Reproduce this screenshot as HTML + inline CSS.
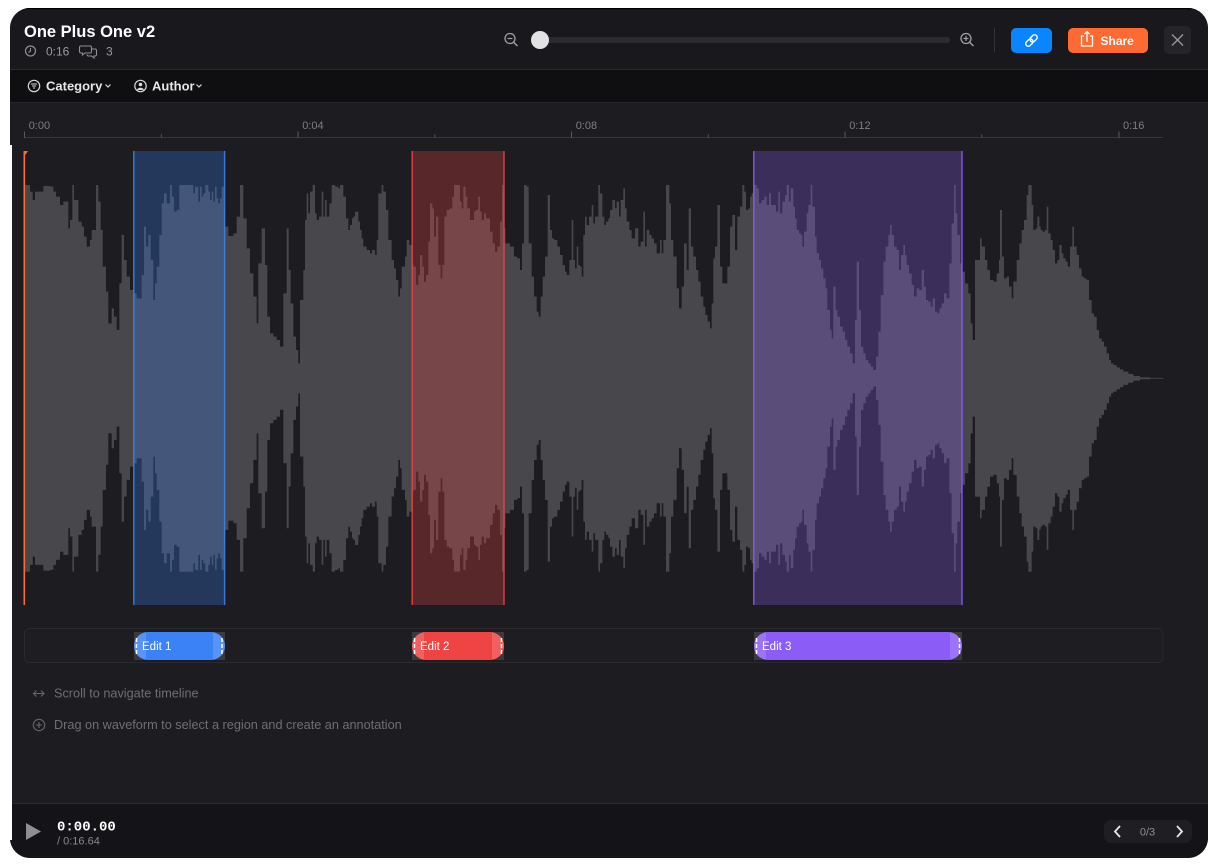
<!DOCTYPE html>
<html><head><meta charset="utf-8"><style>
html,body{margin:0;padding:0;background:#fff;width:1218px;height:867px;overflow:hidden}
svg{display:block}
text{font-family:"Liberation Sans",Arial,sans-serif}
.mono{font-family:"Liberation Mono","DejaVu Sans Mono",monospace}
</style></head><body>
<svg width="1218" height="867" viewBox="0 0 1218 867" xmlns="http://www.w3.org/2000/svg" xmlns:xlink="http://www.w3.org/1999/xlink">
<defs>
<clipPath id="win"><rect x="10" y="8" width="1198" height="850" rx="20"/></clipPath>
<clipPath id="p1"><rect x="134" y="632" width="91" height="28" rx="14"/></clipPath>
<clipPath id="p2"><rect x="412" y="632" width="92" height="28" rx="14"/></clipPath>
<clipPath id="p3"><rect x="754" y="632" width="208" height="28" rx="14"/></clipPath>
</defs>
<g clip-path="url(#win)">
 <rect x="10" y="8" width="1198" height="850" fill="#1d1c21"/>
 <rect x="10" y="8" width="1198" height="61" fill="#19181d"/>
 <rect x="10" y="8" width="1198" height="1.2" fill="#000"/>
 <rect x="10" y="69" width="1198" height="1" fill="#2c2b30"/>
 <rect x="10" y="70" width="1198" height="32" fill="#0f0f11"/>
 <rect x="10" y="102" width="1198" height="1" fill="#26252a"/>
 <rect x="10" y="803" width="1198" height="1" fill="#2a292e"/>
 <rect x="10" y="804" width="1198" height="54" fill="#141317"/>
</g>
<rect x="10" y="145" width="2" height="695" fill="#fff"/>

<!-- header -->
<text x="24" y="37" font-size="16.5" font-weight="700" fill="#ffffff">One Plus One v2</text>
<circle cx="30.5" cy="51" r="5" fill="none" stroke="#8e8e93" stroke-width="1.2"/>
<path d="M30.5,48 V51 L28.5,52.5" fill="none" stroke="#8e8e93" stroke-width="1.1"/>
<text x="46" y="55.5" font-size="12" fill="#9a9a9f">0:16</text>
<path d="M81,46 h9 a1.5,1.5 0 0 1 1.5,1.5 v4 a1.5,1.5 0 0 1 -1.5,1.5 h-5 l-2.5,2 v-2 h-1.5 a1.5,1.5 0 0 1 -1.5,-1.5 v-4 a1.5,1.5 0 0 1 1.5,-1.5z" fill="none" stroke="#8e8e93" stroke-width="1.1"/>
<path d="M91.5,49 h3.5 a1.5,1.5 0 0 1 1.5,1.5 v4 a1.5,1.5 0 0 1 -1.5,1.5 h-1 v2 l-2.5,-2 h-3 a1.5,1.5 0 0 1 -1.5,-1.5" fill="none" stroke="#8e8e93" stroke-width="1.1"/>
<text x="106" y="55.5" font-size="12" fill="#9a9a9f">3</text>

<!-- zoom slider -->
<circle cx="510" cy="38.5" r="5" fill="none" stroke="#a0a0a5" stroke-width="1.3"/>
<line x1="513.6" y1="42.2" x2="517.5" y2="46" stroke="#a0a0a5" stroke-width="1.4"/>
<line x1="507.5" y1="38.5" x2="512.5" y2="38.5" stroke="#a0a0a5" stroke-width="1.2"/>
<rect x="537" y="37" width="413" height="6" rx="3" fill="#2c2b30"/>
<circle cx="540" cy="40" r="9" fill="#e2e2e4"/>
<circle cx="966" cy="38.5" r="5" fill="none" stroke="#a0a0a5" stroke-width="1.3"/>
<line x1="969.6" y1="42.2" x2="973.5" y2="46" stroke="#a0a0a5" stroke-width="1.4"/>
<line x1="963.5" y1="38.5" x2="968.5" y2="38.5" stroke="#a0a0a5" stroke-width="1.2"/>
<line x1="966" y1="36" x2="966" y2="41" stroke="#a0a0a5" stroke-width="1.2"/>
<line x1="994.5" y1="28" x2="994.5" y2="52" stroke="#333237" stroke-width="1"/>

<!-- buttons -->
<rect x="1011" y="28" width="41" height="25" rx="5" fill="#0a84ff"/>
<g transform="translate(1031.5,40.5) rotate(-45)" fill="none" stroke="#fff" stroke-width="1.4">
 <rect x="-7" y="-2.6" width="8" height="5.2" rx="2.6"/>
 <rect x="-1" y="-2.6" width="8" height="5.2" rx="2.6"/>
</g>
<rect x="1068" y="28" width="80" height="25" rx="5" fill="#ff6a33"/>
<path d="M1084,36 h-2.5 v10 h11 v-10 h-2.5" fill="none" stroke="#fff" stroke-width="1.3"/>
<path d="M1087,42 V31.5 M1084.5,34 L1087,31.5 L1089.5,34" fill="none" stroke="#fff" stroke-width="1.3"/>
<text x="1100.5" y="45" font-size="12" font-weight="700" fill="#fff">Share</text>
<rect x="1164" y="26" width="27" height="28" rx="5" fill="#252429"/>
<path d="M1172,34.5 L1183,45.5 M1183,34.5 L1172,45.5" stroke="#9a9a9f" stroke-width="1.3"/>

<!-- filter bar -->
<circle cx="34" cy="86" r="5.7" fill="none" stroke="#d8d8da" stroke-width="1.2"/>
<path d="M31,84 h6 M32,86 h4 M33,88 h2" stroke="#d8d8da" stroke-width="1.1"/>
<text x="46" y="90.5" font-size="13" font-weight="700" fill="#e6e6e8">Category</text>
<path d="M105.5,84.5 L108,87 L110.5,84.5" fill="none" stroke="#d8d8da" stroke-width="1.2"/>
<circle cx="140.5" cy="86" r="5.7" fill="none" stroke="#d8d8da" stroke-width="1.2"/>
<circle cx="140.5" cy="84.5" r="1.8" fill="#d8d8da"/>
<path d="M137,90 a3.6,3 0 0 1 7,0z" fill="#d8d8da"/>
<text x="152" y="90.5" font-size="13" font-weight="700" fill="#e6e6e8">Author</text>
<path d="M196.5,84.5 L199,87 L201.5,84.5" fill="none" stroke="#d8d8da" stroke-width="1.2"/>

<!-- timeline ruler -->
<line x1="24" y1="137.5" x2="1163" y2="137.5" stroke="#38373c" stroke-width="1"/>
<g stroke="#5a5a5f" stroke-width="1">
 <line x1="24.5" y1="131.5" x2="24.5" y2="137.5"/>
 <line x1="298" y1="131.5" x2="298" y2="137.5"/>
 <line x1="571.5" y1="131.5" x2="571.5" y2="137.5"/>
 <line x1="845" y1="131.5" x2="845" y2="137.5"/>
 <line x1="1119" y1="131.5" x2="1119" y2="137.5"/>
 <line x1="161.3" y1="134.5" x2="161.3" y2="137.5"/>
 <line x1="434.8" y1="134.5" x2="434.8" y2="137.5"/>
 <line x1="708.3" y1="134.5" x2="708.3" y2="137.5"/>
 <line x1="981.8" y1="134.5" x2="981.8" y2="137.5"/>
</g>
<g font-size="11" fill="#7e7e83">
 <text x="28.7" y="129">0:00</text>
 <text x="302.2" y="129">0:04</text>
 <text x="575.7" y="129">0:08</text>
 <text x="849.2" y="129">0:12</text>
 <text x="1123" y="129">0:16</text>
</g>

<!-- waveform -->
<g id="wave" fill="#48474c">
<path transform="translate(20,150) scale(0.333333)" d="M15,686 V105 H30 V125 H38 V150 H45 V125 H70 V108 H90 V110 H100 V125 H108 V140 H120 V165 H130 V155 H145 V235 H150 V210 H157 V105 H162 V150 H175 V215 H185 V230 H192 V260 H200 V290 H210 V270 H215 V240 H228 V105 H235 V155 H242 V240 H248 V350 H258 V425 H265 V520 H275 V475 H282 V500 H290 V540 H298 V400 H305 V255 H312 V330 H320 V380 H330 V420 H340 V430 H350 V445 H365 V375 H372 V230 H378 V290 H385 V255 H392 V330 H400 V450 H405 V400 H410 V350 H418 V255 H425 V160 H432 V130 H440 V160 H450 V105 H456 V140 H462 V185 H470 V180 H478 V105 H520 V130 H525 V110 H535 V155 H540 V110 H545 V140 H550 V130 H556 V105 H565 V125 H570 V150 H575 V125 H580 V155 H585 V110 H590 V145 H595 V160 H600 V145 H605 V110 H612 V180 H615 V230 H625 V258 H640 V250 H650 V200 H660 V105 H670 V205 H680 V295 H690 V370 H700 V440 H710 V520 H715 V340 H725 V235 H735 V345 H742 V500 H750 V550 H760 V560 H770 V570 H780 V590 H790 V430 H800 V235 H806 V360 H812 V460 H820 V560 H828 V600 H835 V640 H840 V450 H850 V360 H855 V210 H860 V130 H865 V190 H870 V125 H878 V105 H885 V190 H890 V210 H897 V200 H905 V125 H910 V200 H915 V150 H920 V200 H928 V160 H935 V105 H945 V110 H955 V115 H960 V105 H970 V140 H978 V205 H985 V240 H990 V225 H996 V205 H1000 V200 H1005 V185 H1015 V215 H1020 V240 H1025 V265 H1030 V290 H1040 V300 H1050 V310 H1056 V300 H1065 V315 H1070 V270 H1075 V130 H1085 V105 H1090 V125 H1098 V180 H1105 V270 H1115 V330 H1122 V355 H1128 V390 H1135 V440 H1140 V415 H1145 V350 H1155 V320 H1160 V270 H1168 V285 H1178 V686 Z"/>
<path transform="translate(410,150) scale(0.333333)" d="M5,686 V340 H10 V350 H18 V405 H25 V375 H30 V315 H37 V350 H42 V395 H48 V375 H55 V275 H60 V160 H67 V175 H72 V260 H78 V200 H85 V345 H92 V385 H97 V345 H103 V200 H110 V180 H118 V175 H127 V140 H132 V105 H150 V155 H155 V175 H160 V110 H167 V140 H172 V175 H180 V210 H192 V185 H197 V180 H205 V140 H210 V185 H215 V210 H222 V190 H228 V205 H240 V245 H248 V280 H255 V305 H262 V290 H270 V215 H276 V105 H282 V235 H286 V280 H300 V290 H312 V320 H322 V325 H330 V360 H336 V280 H342 V105 H350 V110 H356 V280 H365 V380 H372 V440 H380 V485 H386 V500 H392 V440 H398 V380 H405 V320 H413 V135 H420 V240 H426 V265 H432 V270 H442 V290 H450 V315 H458 V345 H465 V365 H470 V375 H478 V330 H485 V210 H490 V330 H495 V355 H500 V290 H505 V345 H510 V350 H515 V380 H520 V255 H525 V200 H530 V225 H537 V200 H545 V165 H550 V220 H555 V200 H565 V105 H570 V130 H577 V200 H583 V225 H588 V215 H595 V205 H600 V180 H607 V150 H615 V175 H620 V155 H627 V200 H632 V150 H640 V115 H645 V175 H650 V215 H658 V240 H665 V265 H675 V235 H685 V290 H692 V275 H700 V185 H705 V290 H710 V240 H718 V255 H725 V265 H732 V280 H740 V310 H750 V270 H755 V310 H760 V270 H768 V105 H778 V160 H783 V270 H790 V320 H800 V415 H807 V475 H815 V410 H822 V280 H830 V360 H836 V175 H843 V290 H850 V320 H858 V360 H865 V395 H872 V440 H880 V470 H886 V495 H893 V515 H900 V535 H905 V460 H910 V325 H915 V290 H922 V165 H930 V350 H937 V400 H952 V350 H960 V230 H967 V195 H975 V300 H982 V200 H990 V170 H997 V105 H1003 V125 H1008 V180 H1015 V175 H1020 V140 H1025 V130 H1030 V105 H1040 V115 H1047 V160 H1055 V150 H1063 V140 H1070 V165 H1077 V130 H1083 V165 H1098 V185 H1105 V125 H1110 V190 H1117 V155 H1125 V135 H1130 V105 H1137 V155 H1142 V115 H1150 V170 H1155 V205 H1160 V240 H1167 V250 H1173 V686 Z"/>
<path transform="translate(800,150) scale(0.333333)" d="M0,686 V255 H7 V290 H12 V245 H20 V190 H25 V165 H32 V105 H37 V170 H45 V260 H50 V310 H57 V330 H63 V355 H70 V385 H77 V415 H82 V480 H90 V540 H95 V565 H100 V410 H107 V480 H112 V500 H120 V530 H128 V545 H135 V570 H142 V590 H150 V610 H158 V640 H165 V510 H170 V335 H177 V480 H183 V590 H190 V610 H197 V630 H205 V640 H212 V650 H220 V660 H228 V620 H235 V545 H242 V435 H250 V335 H257 V290 H265 V255 H270 V225 H275 V255 H282 V290 H290 V300 H297 V360 H303 V315 H310 V285 H315 V315 H320 V345 H327 V370 H335 V405 H342 V440 H350 V415 H357 V420 H365 V360 H372 V410 H378 V450 H385 V455 H392 V470 H398 V445 H405 V485 H412 V490 H418 V475 H425 V460 H432 V430 H440 V445 H448 V340 H455 V220 H462 V105 H467 V190 H472 V255 H480 V340 H487 V365 H495 V400 H505 V430 H512 V520 H518 V570 H525 V330 H540 V265 H545 V290 H555 V330 H562 V360 H570 V390 H580 V395 H590 V370 H597 V330 H600 V180 H606 V320 H612 V385 H620 V380 H627 V410 H635 V445 H640 V395 H650 V330 H658 V280 H665 V240 H672 V210 H680 V135 H685 V105 H695 V165 H700 V240 H707 V235 H712 V200 H718 V230 H722 V240 H727 V245 H735 V240 H740 V170 H745 V250 H752 V270 H758 V300 H765 V340 H772 V330 H778 V285 H785 V310 H790 V325 H797 V335 H803 V350 H810 V290 H817 V230 H822 V290 H830 V315 H837 V355 H845 V380 H852 V385 H860 V390 H867 V450 H875 V490 H882 V500 H890 V540 H897 V565 H905 V575 H912 V590 H920 V610 H927 V630 H933 V640 H940 V645 H950 V652 H960 V658 H970 V665 H985 V672 H1000 V678 H1020 V682 H1050 V684 H1090 V686 Z"/>
</g>
<use href="#wave" xlink:href="#wave" transform="matrix(1,0,0,-1,0,756.6)"/>

<!-- region overlays -->
<rect x="133.3" y="151" width="91.7" height="454" fill="#3b82f6" fill-opacity="0.28"/>
<rect x="411.7" y="151" width="92.6" height="454" fill="#ef4444" fill-opacity="0.28"/>
<rect x="753.3" y="151" width="209" height="454" fill="#8b5cf6" fill-opacity="0.28"/>
<g stroke-width="1.5" stroke-opacity="0.85">
 <line x1="133.8" y1="151" x2="133.8" y2="605" stroke="#3b82f6"/>
 <line x1="224.6" y1="151" x2="224.6" y2="605" stroke="#3b82f6"/>
 <line x1="412.2" y1="151" x2="412.2" y2="605" stroke="#ef4444"/>
 <line x1="504" y1="151" x2="504" y2="605" stroke="#ef4444"/>
 <line x1="753.8" y1="151" x2="753.8" y2="605" stroke="#8b5cf6"/>
 <line x1="962" y1="151" x2="962" y2="605" stroke="#8b5cf6"/>
</g>
<!-- playhead -->
<rect x="23.5" y="151" width="1.6" height="454" fill="#ff6b35"/>
<polygon points="23.5,151 28,151 24.5,156" fill="#ff6b35"/>

<!-- annotation track -->
<rect x="24.5" y="628.5" width="1138.5" height="34" rx="5" fill="#1e1d22" stroke="#2a292e" stroke-width="1"/>

<rect x="134" y="632" width="91" height="28" fill="#3a3a3e"/>
<g clip-path="url(#p1)">
 <rect x="134" y="632" width="91" height="28" fill="#3b82f6"/>
 <rect x="134" y="632" width="12" height="28" fill="#fff" fill-opacity="0.15"/>
 <rect x="213" y="632" width="12" height="28" fill="#fff" fill-opacity="0.15"/>
</g>
<line x1="136.5" y1="638" x2="136.5" y2="655" stroke="#fff" stroke-width="1.5" stroke-dasharray="4,2"/>
<line x1="222" y1="638" x2="222" y2="655" stroke="#fff" stroke-width="1.5" stroke-dasharray="4,2"/>
<text x="142" y="650" font-size="11.5" fill="#fff">Edit 1</text>

<rect x="412" y="632" width="92" height="28" fill="#3a3a3e"/>
<g clip-path="url(#p2)">
 <rect x="412" y="632" width="92" height="28" fill="#ef4444"/>
 <rect x="412" y="632" width="12" height="28" fill="#fff" fill-opacity="0.15"/>
 <rect x="492" y="632" width="12" height="28" fill="#fff" fill-opacity="0.15"/>
</g>
<line x1="414.5" y1="638" x2="414.5" y2="655" stroke="#fff" stroke-width="1.5" stroke-dasharray="4,2"/>
<line x1="501.5" y1="638" x2="501.5" y2="655" stroke="#fff" stroke-width="1.5" stroke-dasharray="4,2"/>
<text x="420" y="650" font-size="11.5" fill="#fff">Edit 2</text>

<rect x="754" y="632" width="208" height="28" fill="#3a3a3e"/>
<g clip-path="url(#p3)">
 <rect x="754" y="632" width="208" height="28" fill="#8b5cf6"/>
 <rect x="754" y="632" width="12" height="28" fill="#fff" fill-opacity="0.15"/>
 <rect x="950" y="632" width="12" height="28" fill="#fff" fill-opacity="0.15"/>
</g>
<line x1="756.5" y1="638" x2="756.5" y2="655" stroke="#fff" stroke-width="1.5" stroke-dasharray="4,2"/>
<line x1="959.5" y1="638" x2="959.5" y2="655" stroke="#fff" stroke-width="1.5" stroke-dasharray="4,2"/>
<text x="762" y="650" font-size="11.5" fill="#fff">Edit 3</text>

<!-- hints -->
<path d="M33.5,693.5 H44 M36.5,690.5 L33.5,693.5 L36.5,696.5 M41,690.5 L44,693.5 L41,696.5" fill="none" stroke="#66666b" stroke-width="1.1"/>
<text x="54" y="697.5" font-size="12.7" fill="#6e6e73">Scroll to navigate timeline</text>
<circle cx="39" cy="725" r="5.7" fill="none" stroke="#66666b" stroke-width="1.1"/>
<path d="M36,725 H42 M39,722 V728" stroke="#66666b" stroke-width="1.1"/>
<text x="54" y="728.8" font-size="12.7" fill="#6e6e73">Drag on waveform to select a region and create an annotation</text>

<!-- bottom bar -->
<polygon points="26,823 41,831.5 26,840" fill="#8e8e93"/>
<text x="57" y="830.5" font-size="14" font-weight="700" fill="#ffffff" class="mono">0:00.00</text>
<text x="57" y="844.5" font-size="11" fill="#8a8a8f">/ 0:16.64</text>
<rect x="1104" y="820" width="88" height="23" rx="7" fill="#1f1e23"/>
<path d="M1120,826 L1115,831.5 L1120,837" fill="none" stroke="#e8e8ea" stroke-width="1.8"/>
<path d="M1177,826 L1182,831.5 L1177,837" fill="none" stroke="#e8e8ea" stroke-width="1.8"/>
<text x="1147.5" y="835.5" font-size="11" fill="#8e8e93" text-anchor="middle">0/3</text>
</svg>
</body></html>
